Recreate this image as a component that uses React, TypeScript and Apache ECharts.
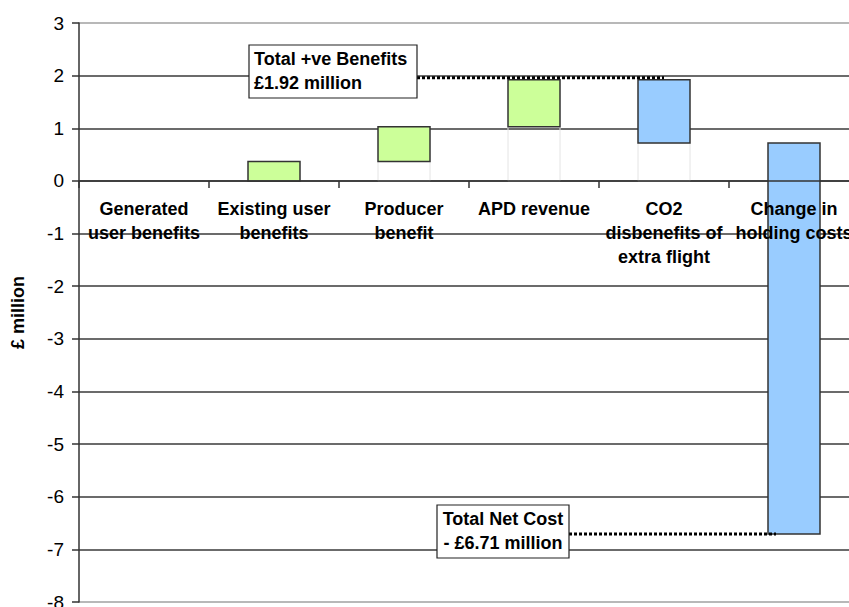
import React, { useEffect, useRef } from "react";
import * as echarts from "echarts";

const categories = [
  "Generated\nuser benefits",
  "Existing user\nbenefits",
  "Producer\nbenefit",
  "APD revenue",
  "CO2\ndisbenefits of\nextra flight",
  "Change in\nholding costs",
];
// change contributed by each step (£ million)
const changes = [0, 0.37, 0.66, 0.89, -1.2, -7.43];
const yTicks = { min: -8, max: 3, interval: 1 };
const benefitLabel = ["Total +ve Benefits", "£1.92 million"];
const costLabel = ["Total Net Cost", "- £6.71 million"];
const totalBenefit = 1.92;
const totalNet = -6.71;

const FONT = "'Liberation Sans', Arial, sans-serif";

export default function App() {
  const ref = useRef<HTMLDivElement>(null);
  useEffect(() => {
    if (!ref.current) return;
    const chart = echarts.init(ref.current, null, { renderer: "svg" });

    const ranges: number[][] = [];
    let run = 0;
    changes.forEach((c, i) => {
      const start = run;
      run = +(run + c).toFixed(4);
      ranges.push([i, Math.min(start, run), Math.max(start, run), c]);
    });
    const bases = ranges.filter((r) => r[1] > 0).map((r) => [r[0], 0, r[1]]);

    const splitColors: string[] = [];
    for (let v = yTicks.min; v <= yTicks.max; v += yTicks.interval) {
      splitColors.push(v === yTicks.min || v === yTicks.max ? "#a0a0a0" : "#3a3a3a");
    }

    chart.setOption({
      animation: false,
      grid: {
        left: 79,
        top: 23,
        width: 780,
        height: 579,
        containLabel: false,
        outerBoundsMode: "none",
      },
      xAxis: {
        type: "category",
        data: categories,
        position: "bottom",
        offset: 0,
        z: 10,
        axisLine: { onZero: false, lineStyle: { color: "#333", width: 1.5 } },
        axisTick: { show: true, length: 7, lineStyle: { color: "#333", width: 1.5 } },
        axisLabel: {
          interval: 0,
          margin: 16,
          color: "#000",
          fontFamily: FONT,
          fontWeight: "bold",
          fontSize: 18,
          lineHeight: 24,
          hideOverlap: false,
        },
        splitLine: { show: false },
      },
      yAxis: {
        type: "value",
        min: yTicks.min,
        max: yTicks.max,
        interval: yTicks.interval,
        name: "£ million",
        nameLocation: "middle",
        nameRotate: 90,
        nameGap: 52,
        nameTextStyle: { fontFamily: FONT, fontWeight: "bold", fontSize: 18, color: "#000" },
        axisLine: { show: true, lineStyle: { color: "#333", width: 1.5 } },
        axisTick: { show: true, length: 7, lineStyle: { color: "#333", width: 1.5 } },
        axisLabel: { margin: 15, color: "#000", fontFamily: FONT, fontSize: 19 },
        splitLine: { show: true, lineStyle: { color: splitColors, width: 1.5 } },
      },
      series: [
        {
          type: "custom",
          data: bases,
          z: 2,
          renderItem: (params: any, api: any) => {
            const idx = api.value(0);
            const lo = api.value(1);
            const hi = api.value(2);
            const p1 = api.coord([idx, hi]);
            const p2 = api.coord([idx, lo]);
            const w = api.size([1, 0])[0] * 0.4;
            return {
              type: "rect",
              shape: { x: p1[0] - w / 2, y: p1[1], width: w, height: p2[1] - p1[1] },
              style: { fill: "rgba(255,255,255,0)", stroke: "#e4e4e4", lineWidth: 1 },
            };
          },
        },
        {
          type: "custom",
          data: ranges,
          z: 3,
          renderItem: (params: any, api: any) => {
            const idx = api.value(0);
            const lo = api.value(1);
            const hi = api.value(2);
            const c = api.value(3);
            if (hi - lo <= 0) return null;
            const p1 = api.coord([idx, hi]);
            const p2 = api.coord([idx, lo]);
            const w = api.size([1, 0])[0] * 0.4;
            return {
              type: "rect",
              shape: { x: p1[0] - w / 2, y: p1[1], width: w, height: p2[1] - p1[1] },
              style: { fill: c >= 0 ? "#CCFF99" : "#99CCFF", stroke: "#333", lineWidth: 1.5 },
            };
          },
        },
      ],
    });

    const yZero = chart.convertToPixel({ yAxisIndex: 0 }, 0) as number;
    const yMin = chart.convertToPixel({ yAxisIndex: 0 }, yTicks.min) as number;
    const yB = chart.convertToPixel({ yAxisIndex: 0 }, totalBenefit) as number;
    const yN = chart.convertToPixel({ yAxisIndex: 0 }, totalNet) as number;
    const xCO2 = chart.convertToPixel({ xAxisIndex: 0 }, 4) as number;
    const xHold = chart.convertToPixel({ xAxisIndex: 0 }, 5) as number;

    const textStyle = { fontFamily: FONT, fontWeight: "bold", fontSize: 18, fill: "#000" };

    chart.setOption({
      xAxis: { offset: -(yMin - yZero) },
      graphic: [
        {
          type: "line",
          z: 10,
          shape: { x1: 417, y1: yB - 2, x2: xCO2, y2: yB - 2 },
          style: { stroke: "#000", lineWidth: 3, lineDash: [3, 2] },
        },
        {
          type: "rect",
          z: 10,
          shape: { x: 249, y: 45, width: 168, height: 53 },
          style: { fill: "#fff", stroke: "#222", lineWidth: 1.2 },
        },
        { type: "text", z: 11, x: 254, y: 59, style: { ...textStyle, text: benefitLabel[0], verticalAlign: "middle" } },
        { type: "text", z: 11, x: 254, y: 83, style: { ...textStyle, text: benefitLabel[1], verticalAlign: "middle" } },
        {
          type: "line",
          z: 10,
          shape: { x1: 569, y1: yN, x2: xHold - 18, y2: yN },
          style: { stroke: "#000", lineWidth: 3, lineDash: [3, 2] },
        },
        {
          type: "rect",
          z: 10,
          shape: { x: 437, y: 505, width: 132, height: 53 },
          style: { fill: "#fff", stroke: "#222", lineWidth: 1.2 },
        },
        { type: "text", z: 11, x: 503, y: 519, style: { ...textStyle, text: costLabel[0], align: "center", verticalAlign: "middle" } },
        { type: "text", z: 11, x: 503, y: 543, style: { ...textStyle, text: costLabel[1], align: "center", verticalAlign: "middle" } },
      ],
    });

    return () => chart.dispose();
  }, []);
  return (
    <div
      ref={ref}
      style={{ position: "fixed", left: 0, top: 0, width: 849, height: 607, background: "#fff" }}
    />
  );
}
